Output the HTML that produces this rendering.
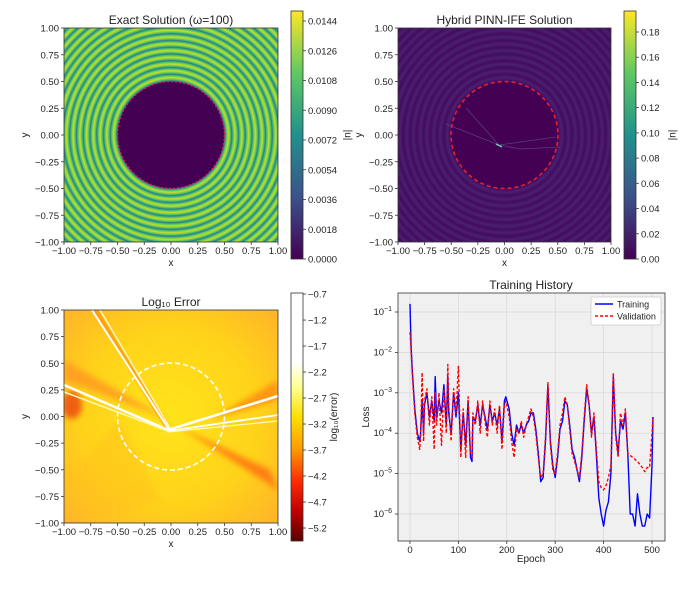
<!DOCTYPE html>
<html><head><meta charset="utf-8"><style>
body{margin:0;background:#fff;}
svg text{font-family:"Liberation Sans","DejaVu Sans",sans-serif;fill:#222;}
</style></head><body>
<svg id="fig" width="695" height="585" viewBox="0 0 695 585" xmlns="http://www.w3.org/2000/svg">
<defs>
<radialGradient id="rings" gradientUnits="userSpaceOnUse" cx="171" cy="135" r="6.75" spreadMethod="repeat">
<stop offset="0" stop-color="#2a7a8e"/><stop offset="0.2" stop-color="#4cc26c"/><stop offset="0.5" stop-color="#c8e020"/><stop offset="0.8" stop-color="#4cc26c"/><stop offset="1" stop-color="#2a7a8e"/>
</radialGradient>
<radialGradient id="rings2" gradientUnits="userSpaceOnUse" cx="504.5" cy="135" r="6.75" spreadMethod="repeat">
<stop offset="0" stop-color="#440a5e"/><stop offset="0.5" stop-color="#4a2070"/><stop offset="1" stop-color="#440a5e"/>
</radialGradient>
<linearGradient id="viridis" x1="0" y1="1" x2="0" y2="0">
<stop offset="0" stop-color="#440154"/><stop offset="0.25" stop-color="#3b528b"/><stop offset="0.5" stop-color="#21918c"/><stop offset="0.75" stop-color="#5ec962"/><stop offset="1" stop-color="#fde725"/>
</linearGradient>
<linearGradient id="hot" x1="0" y1="0" x2="0" y2="1">
<stop offset="0" stop-color="#ffffff"/><stop offset="0.28" stop-color="#ffffff"/><stop offset="0.38" stop-color="#ffff90"/><stop offset="0.5" stop-color="#ffe000"/><stop offset="0.63" stop-color="#ff9a00"/><stop offset="0.76" stop-color="#ff2a00"/><stop offset="0.88" stop-color="#c00000"/><stop offset="1" stop-color="#5a0000"/>
</linearGradient>
<radialGradient id="errbg" cx="0.5" cy="0.5" r="0.7">
<stop offset="0" stop-color="#ffe41a"/><stop offset="0.6" stop-color="#ffd21a"/><stop offset="1" stop-color="#ffb428"/>
</radialGradient>
<filter id="blur"><feGaussianBlur stdDeviation="3"/></filter>
<filter id="blur1"><feGaussianBlur stdDeviation="0.8"/></filter>
<clipPath id="c3"><rect x="64" y="310" width="214" height="213"/></clipPath>
</defs>

<g>
<text x="171" y="24" font-size="12" text-anchor="middle">Exact Solution (ω=100)</text>
<rect x="64" y="28" width="214" height="214" fill="url(#rings)"/>
<circle cx="171" cy="135" r="53.5" fill="#440154" stroke="#e0205a" stroke-width="1.5" stroke-dasharray="2 2"/>
<rect x="64" y="28" width="214" height="214" fill="none" stroke="#333" stroke-width="0.8"/>
<g id="ax1"></g>
<rect x="291" y="11" width="12" height="248" fill="url(#viridis)" stroke="#333" stroke-width="0.8"/>
<g id="cb1"></g>
<text transform="translate(345,135) rotate(90)" font-size="10" text-anchor="middle">|u|</text>
</g>

<g>
<text x="504.5" y="24" font-size="12" text-anchor="middle">Hybrid PINN-IFE Solution</text>
<rect x="398" y="28" width="213" height="214" fill="url(#rings2)"/>
<circle cx="504.5" cy="135" r="53.5" fill="#440154"/>
<g stroke="#5a4a90" stroke-width="0.8" fill="none" opacity="0.8">
<path d="M446 124 L499 145 L556 137"/><path d="M466 108 L499 145"/><path d="M499 145 L520 149 L560 147"/>
</g>
<path d="M496 144 L502 147" stroke="#6fd0a0" stroke-width="1.5"/>
<circle cx="504.5" cy="135" r="53.5" fill="none" stroke="#e8202a" stroke-width="1.6" stroke-dasharray="4 3"/>
<rect x="398" y="28" width="213" height="214" fill="none" stroke="#333" stroke-width="0.8"/>
<g id="ax2"></g>
<rect x="624" y="11" width="12" height="248" fill="url(#viridis)" stroke="#333" stroke-width="0.8"/>
<g id="cb2"></g>
<text transform="translate(670,135) rotate(90)" font-size="10" text-anchor="middle">|u|</text>
</g>

<g>
<text x="171" y="306" font-size="12" text-anchor="middle">Log₁₀ Error</text>
<g clip-path="url(#c3)">
<rect x="64" y="310" width="214" height="213" fill="url(#errbg)"/>
<g filter="url(#blur)" opacity="0.7">
<ellipse cx="72" cy="405" rx="10" ry="14" fill="#e83010"/>
<path d="M175 425 L270 470 L278 490 L200 440 Z" fill="#ff6010"/>
<path d="M64 360 L170 420 L64 380 Z" fill="#ff9020"/>
<path d="M120 420 L160 500 L90 523 L64 480 Z" fill="#ffc020" opacity="0.6"/>
<path d="M278 400 L210 420 L278 380 Z" fill="#ff8010"/>
</g>
<g fill="none" stroke-linecap="round">
<path d="M95 310 L168 428" stroke="#ff8a00" stroke-width="5" opacity="0.6" filter="url(#blur1)"/>
<path d="M92 310 L168 428" stroke="#fff" stroke-width="2"/>
<path d="M100 310 L170 428" stroke="#fff8c0" stroke-width="1.5"/>
<path d="M64 385 L168 430" stroke="#fff" stroke-width="2.5"/>
<path d="M64 392 L168 431" stroke="#fff8c0" stroke-width="1.5"/>
<path d="M168 430 L278 396" stroke="#fff" stroke-width="2.5"/>
<path d="M168 431 L278 415" stroke="#fff" stroke-width="1.8"/>
<path d="M168 432 L278 421" stroke="#fffacc" stroke-width="1.2"/>
</g>
</g>
<circle cx="171" cy="416.5" r="53.5" fill="none" stroke="#fff" stroke-width="1.6" stroke-dasharray="5 3"/>
<rect x="64" y="310" width="214" height="213" fill="none" stroke="#333" stroke-width="0.8"/>
<g id="ax3"></g>
<rect x="291" y="293" width="12" height="248" fill="url(#hot)" stroke="#333" stroke-width="0.8"/>
<g id="cb3"></g>
<text transform="translate(337,417) rotate(-90)" font-size="10" text-anchor="middle">log₁₀(error)</text>
</g>

<g>
<text x="531" y="289" font-size="12" text-anchor="middle">Training History</text>
<rect x="398" y="293" width="267" height="248" fill="#f0f0f0"/>
<g id="ax4"></g>
<rect x="398" y="293" width="267" height="248" fill="none" stroke="#333" stroke-width="0.8"/>
<text x="531" y="562" font-size="10" text-anchor="middle">Epoch</text>
<text transform="translate(369,417) rotate(-90)" font-size="10" text-anchor="middle">Loss</text>
<g>
<rect x="591" y="297" width="70" height="28" fill="#fff" stroke="#ccc" stroke-width="0.8" rx="2"/>
<line x1="595" y1="304" x2="613" y2="304" stroke="#0000ff" stroke-width="1.5"/>
<text x="617" y="307.5" font-size="9">Training</text>
<line x1="595" y1="316" x2="613" y2="316" stroke="#ff0000" stroke-width="1.5" stroke-dasharray="3 2"/>
<text x="617" y="319.5" font-size="9">Validation</text>
</g>
</g>
</svg>
<script>
const NS='http://www.w3.org/2000/svg';
const axisTicks=[-1,-0.75,-0.5,-0.25,0,0.25,0.5,0.75,1];
const axisLabels=['−1.00','−0.75','−0.50','−0.25','0.00','0.25','0.50','0.75','1.00'];
const cb1Ticks=[0,0.0018,0.0036,0.0054,0.0072,0.009,0.0108,0.0126,0.0144];
const cb1Labels=['0.0000','0.0018','0.0036','0.0054','0.0072','0.0090','0.0108','0.0126','0.0144'];
const cb2Ticks=[0,0.02,0.04,0.06,0.08,0.1,0.12,0.14,0.16,0.18];
const cb2Labels=['0.00','0.02','0.04','0.06','0.08','0.10','0.12','0.14','0.16','0.18'];
const cb3Ticks=[-0.7,-1.2,-1.7,-2.2,-2.7,-3.2,-3.7,-4.2,-4.7,-5.2];
const epochTicks=[0,100,200,300,400,500];
const lossTicks=[-1,-2,-3,-4,-5,-6];
const trainEpochs=[0,2,5,10,15,20,22,25,28,30,35,40,45,50,52,55,60,65,70,75,78,80,85,90,95,100,105,110,115,120,125,128,130,135,140,145,150,155,160,165,170,175,180,185,190,195,198,205,210,215,220,225,230,235,240,245,250,255,260,265,270,275,280,285,290,295,300,305,310,315,320,325,330,335,340,345,350,355,360,365,370,375,380,385,390,395,400,405,410,415,420,425,430,435,440,445,450,455,460,465,470,475,480,485,490,495,500,502];
const trainLoss=[-0.8,-1.8,-2.5,-3.4,-4.0,-4.2,-4.0,-3.2,-4.0,-3.3,-3.0,-3.6,-3.2,-3.7,-2.6,-3.6,-3.2,-3.5,-2.8,-3.8,-2.6,-3.5,-4.0,-3.0,-3.6,-3.0,-4.4,-3.5,-4.3,-3.2,-4.6,-4.7,-3.6,-3.7,-3.3,-3.8,-3.3,-3.6,-3.9,-3.3,-3.7,-3.5,-3.8,-3.4,-4.2,-3.2,-3.1,-3.4,-4.0,-4.3,-3.8,-4.0,-3.8,-4.0,-3.8,-3.7,-3.5,-3.5,-3.9,-4.5,-5.2,-5.1,-4.2,-2.8,-4.2,-4.8,-5.1,-4.6,-3.9,-3.7,-3.2,-3.3,-3.8,-4.4,-4.6,-4.9,-5.2,-4.6,-3.7,-2.9,-3.3,-4.0,-3.6,-4.5,-5.6,-6.0,-6.3,-5.9,-5.7,-5.0,-2.6,-4.0,-4.5,-3.7,-3.9,-3.5,-4.5,-6.0,-6.0,-6.3,-5.5,-6.0,-6.3,-6.3,-6.0,-6.1,-4.8,-3.6];
const valEpochs=[0,2,5,10,15,20,22,25,28,30,35,40,45,50,52,55,60,65,70,75,78,80,85,90,95,100,105,110,115,120,125,128,130,135,140,145,150,155,160,165,170,175,180,185,190,195,198,205,210,215,220,225,230,235,240,245,250,255,260,265,270,275,280,285,290,295,300,305,310,315,320,325,330,335,340,345,350,355,360,365,370,375,380,385,390,395,400,405,410,415,420,425,430,435,440,445,450,460,470,480,485,490,495,500,502];
const valLoss=[-1.5,-1.9,-2.6,-3.5,-4.1,-4.4,-4.1,-2.5,-4.2,-3.2,-2.9,-3.8,-3.1,-4.4,-3.0,-3.8,-3.0,-4.3,-2.9,-4.0,-2.3,-3.3,-4.2,-2.9,-3.5,-2.35,-4.6,-3.4,-4.6,-3.1,-4.5,-4.6,-3.5,-3.8,-3.2,-4.0,-3.2,-3.7,-4.1,-3.2,-3.8,-3.4,-4.0,-3.3,-4.4,-3.3,-3.2,-3.6,-4.2,-4.6,-3.9,-4.0,-3.7,-4.1,-3.8,-3.6,-3.4,-3.6,-4.0,-4.6,-5.1,-5.0,-4.1,-2.75,-4.3,-4.9,-5.0,-4.5,-3.8,-3.5,-3.1,-3.3,-3.9,-4.5,-4.7,-4.9,-5.1,-4.5,-3.6,-2.8,-3.3,-4.1,-3.5,-4.4,-5.2,-5.35,-5.4,-5.3,-5.1,-4.8,-2.5,-4.1,-4.6,-3.5,-3.8,-3.4,-4.5,-4.6,-4.7,-4.85,-4.95,-4.85,-4.85,-4.0,-3.6];

function el(tag,attrs,parent,txt){const e=document.createElementNS(NS,tag);for(const k in attrs)e.setAttribute(k,attrs[k]);if(txt!==undefined)e.textContent=txt;parent.appendChild(e);return e;}

function mapAxes(gid,x0,y0,w,h){
  const g=document.getElementById(gid);
  const sx=v=>x0+(v+1)/2*w, sy=v=>y0+(1-v)/2*h;
  axisTicks.forEach((t,i)=>{
    el('line',{x1:sx(t),x2:sx(t),y1:y0+h,y2:y0+h+3,stroke:'#333','stroke-width':0.8},g);
    const tx=el('text',{x:sx(t),y:y0+h+12,'font-size':9.5,'text-anchor':'middle'},g,axisLabels[i]);
    
    
    el('line',{x1:x0-3,x2:x0,y1:sy(t),y2:sy(t),stroke:'#333','stroke-width':0.8},g);
    const ty=el('text',{x:x0-5,y:sy(t)+3.5,'font-size':9.5,'text-anchor':'end'},g,axisLabels[i]);
    
    
  });
  const xl=el('text',{x:x0+w/2,y:y0+h+24,'font-size':10,'text-anchor':'middle'},g,'x');
  
  
  const yl=el('text',{transform:`translate(${x0-36},${y0+h/2}) rotate(-90)`,'font-size':10,'text-anchor':'middle'},g,'y');
  
  
}
mapAxes('ax1',64,28,214,214);
mapAxes('ax2',398,28,213,214);
mapAxes('ax3',64,310,214,213);

function colorbar(gid,x,top,bot,vmin,vmax,ticks,labels){
  const g=document.getElementById(gid);
  const s=v=>bot-(v-vmin)/(vmax-vmin)*(bot-top);
  ticks.forEach((t,i)=>{
    el('line',{x1:x+12,x2:x+15,y1:s(t),y2:s(t),stroke:'#333','stroke-width':0.8},g);
    const tx=el('text',{x:x+17,y:s(t)+3.5,'font-size':9.5},g,labels[i]);
    
    
  });
}
colorbar('cb1',291,11,259,0,0.0144*(248/238),cb1Ticks,cb1Labels);
colorbar('cb2',624,11,259,0,0.18*(248/227),cb2Ticks,cb2Labels);
colorbar('cb3',291,293,541,-5.45,-0.68,cb3Ticks,cb3Ticks.map(v=>'−'+Math.abs(v).toFixed(1)));

const g4=document.getElementById('ax4');
const ex=v=>410+v*(242/500), ly=v=>312+(-1-v)*40.4;
epochTicks.forEach(t=>{
  el('line',{x1:ex(t),x2:ex(t),y1:293,y2:541,stroke:'#d6d6d6','stroke-width':0.7},g4);
  el('line',{x1:ex(t),x2:ex(t),y1:541,y2:544,stroke:'#333','stroke-width':0.8},g4);
  const tx=el('text',{x:ex(t),y:553,'font-size':9.5,'text-anchor':'middle'},g4,String(t));
  
  
});
lossTicks.forEach(t=>{
  el('line',{x1:398,x2:665,y1:ly(t),y2:ly(t),stroke:'#d6d6d6','stroke-width':0.7},g4);
  el('line',{x1:395,x2:398,y1:ly(t),y2:ly(t),stroke:'#333','stroke-width':0.8},g4);
  const tx=el('text',{x:392,y:ly(t)+3,'font-size':9.5,'text-anchor':'end'},g4);
  
  
  el('tspan',{},tx,'10');
  el('tspan',{dy:-4,'font-size':7},tx,'−'+Math.abs(t));
});
const tp=el('path',{d:trainEpochs.map((e,i)=>(i?'L':'M')+ex(e).toFixed(1)+' '+ly(trainLoss[i]).toFixed(1)).join(' '),fill:'none',stroke:'#0000ff','stroke-width':1.4,'stroke-linejoin':'round'},g4);


const vp=el('path',{d:valEpochs.map((e,i)=>(i?'L':'M')+ex(e).toFixed(1)+' '+ly(valLoss[i]).toFixed(1)).join(' '),fill:'none',stroke:'#ff0000','stroke-width':1.4,'stroke-dasharray':'3 2','stroke-linejoin':'round'},g4);


</script>
</body></html>
